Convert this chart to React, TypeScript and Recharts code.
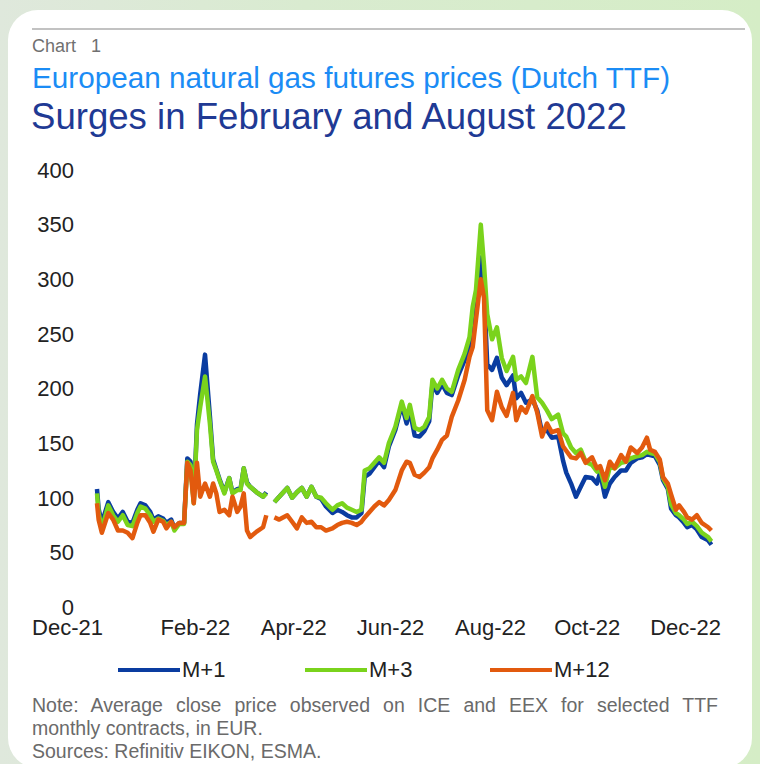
import { LineChart, Line, XAxis, YAxis } from 'recharts';

// trading days counted from the Dec-21 tick
const days = [
  0, 1, 3, 7, 10, 13, 16, 19, 22, 25,
  27, 30, 33, 35, 38, 41, 43, 46, 48, 51,
  54, 56, 58, 60, 62, 64, 67, 70, 72, 74,
  76, 79, 82, 84, 87, 89, 91, 93, 95, 99,
  103, 105, 107, 110, 113, 118, 121, 124, 127, 130,
  133, 136, 139, 142, 146, 149, 152, 155, 158, 161,
  164, 166, 169, 172, 175, 178, 181, 185, 189, 192,
  194, 197, 200, 203, 206, 208, 211, 214, 217, 220,
  224, 228, 231, 233, 235, 238, 240, 242, 245, 248,
  251, 254, 258, 260, 263, 266, 270, 273, 276, 279,
  282, 286, 289, 291, 294, 297, 300, 303, 307, 310,
  312, 315, 318, 321, 325, 328, 331, 335, 338, 341,
  343, 346, 349, 351, 354, 356, 359, 361, 364, 366,
  369, 372, 375, 379, 381,
];

const m1 = [
  108, 90, 77, 96, 87, 81, 87, 78, 77, 89,
  95, 93, 87, 80, 83, 81, 77, 80, 72, 77,
  77, 136, 133, 97, 167, 195, 231, 175, 135, 126,
  117, 105, 118, 105, 108, 108, 127, 114, 110, 105,
  101, 105, null, 96, 101, 109, 100, 105, 109, 101,
  110, 101, 99, 92, 86, 89, 87, 84, 82, 82,
  86, 119, 122, 128, 134, 128, 147, 162, 185, 168,
  180, 157, 156, 161, 170, 204, 196, 204, 196, 194,
  212, 226, 240, 263, 280, 320, 290, 222, 217, 228,
  210, 203, 212, 191, 196, 187, 190, 180, 160, 162,
  155, 156, 134, 123, 113, 101, 110, 119, 118, 113,
  123, 101, 113, 119, 125, 125, 132, 136, 137, 140,
  139, 138, 130, 116, 108, 90, 84, 82, 77, 73,
  75, 71, 64, 61, 57,
];

const m3 = [
  104, 86, 72, 93, 84, 78, 84, 75, 74, 86,
  92, 90, 84, 78, 81, 79, 75, 78, 70, 76,
  76, 133, 130, 95, 162, 183, 211, 168, 133, 125,
  116, 104, 118, 104, 107, 107, 127, 113, 110, 105,
  101, 104, null, 96, 101, 109, 100, 105, 109, 101,
  110, 101, 100, 95, 89, 93, 95, 91, 89, 87,
  89, 125, 127, 132, 137, 132, 150, 165, 188, 173,
  185, 164, 162, 165, 174, 208, 200, 208, 200, 197,
  217, 232, 247, 275, 290, 350, 313, 268, 245, 256,
  228, 216, 229, 208, 211, 205, 229, 192, 187, 180,
  172, 176, 159, 156, 146, 141, 144, 133, 130, 124,
  126, 110, 128, 127, 132, 133, 136, 138, 139, 142,
  141, 140, 133, 118, 110, 94, 86, 84, 80, 76,
  78, 74, 68, 64, 60,
];

const m12 = [
  95, 80, 68, 86, 80, 70, 70, 68, 63, 77,
  84, 84, 77, 69, 80, 78, 72, 78, 73, 77,
  77, 132, 125, 95, 132, 101, 113, 101, 113, 104,
  87, 89, 84, 101, 87, 92, 104, 70, 64, 69,
  73, 84, null, 82, 80, 84, 78, 72, 82, 77,
  78, 73, 73, 70, 72, 75, 77, 78, 77, 75,
  78, 82, 87, 92, 96, 93, 98, 107, 125, 133,
  132, 121, 119, 123, 128, 136, 144, 153, 157, 174,
  189, 208, 229, 238, 263, 300, 283, 180, 171, 197,
  183, 175, 196, 171, 183, 178, 193, 178, 156, 168,
  160, 162, 147, 143, 137, 136, 141, 132, 137, 127,
  129, 116, 133, 127, 139, 133, 146, 141, 146, 155,
  144, 142, 135, 119, 113, 103, 89, 93, 87, 82,
  80, 84, 77, 73, 70,
];

const tickDays = [0, 61, 122, 182, 244, 304, 365];
const tickLabels = ['Dec-21', 'Feb-22', 'Apr-22', 'Jun-22', 'Aug-22', 'Oct-22', 'Dec-22'];
const yTicks = [0, 50, 100, 150, 200, 250, 300, 350, 400];

const seriesNames = ['M+1', 'M+3', 'M+12'];
const COLORS = ['#0a3ca0', '#7ad31c', '#e25a0e'];

const rows = days.map((d, i) => ({ d, m1: m1[i], m3: m3[i], m12: m12[i] }));

const FONT = "'Liberation Sans', Arial, sans-serif";

function XTick(props: any) {
  const { x, y, index } = props;
  const first = index === 0;
  return (
    <text
      x={first ? x + 6 : x}
      y={y}
      dy={24}
      textAnchor={first ? 'end' : 'middle'}
      fill="#222"
      fontSize={22}
      fontFamily={FONT}
    >
      {tickLabels[index]}
    </text>
  );
}

export default function App() {
  return (
    <div
      style={{
        position: 'absolute',
        left: 0,
        top: 0,
        width: 760,
        height: 764,
        overflow: 'hidden',
        background: 'linear-gradient(90deg, #dfe8dc 0%, #d9ebd0 40%, #d5edc6 100%)',
        fontFamily: FONT,
      }}
    >
      <div
        style={{
          position: 'absolute',
          left: 8,
          top: 10,
          width: 744,
          height: 758,
          background: '#fff',
          borderRadius: 30,
        }}
      />
      <div style={{ position: 'absolute', left: 32, top: 28, width: 713, height: 2, background: '#c2c2c2' }} />

      <div style={{ position: 'absolute', left: 32, top: 36, fontSize: 18, color: '#707070', whiteSpace: 'pre' }}>
        {'Chart   1'}
      </div>
      <div style={{ position: 'absolute', left: 32, top: 61, fontSize: 29.7, color: '#1b8cf5', whiteSpace: 'nowrap' }}>
        European natural gas futures prices (Dutch TTF)
      </div>
      <div style={{ position: 'absolute', left: 31, top: 96, fontSize: 36.6, color: '#1f3a94', whiteSpace: 'nowrap' }}>
        Surges in February and August 2022
      </div>

      <div style={{ position: 'absolute', left: 0, top: 0 }}>
        <LineChart width={760} height={700} data={rows} margin={{ top: 170, right: 47, bottom: 63, left: 0 }}>
          <XAxis
            dataKey="d"
            type="number"
            domain={[0, 382]}
            ticks={tickDays}
            interval={0}
            axisLine={false}
            tickLine={false}
            tickSize={0}
            tickMargin={4}
            tick={<XTick />}
          />
          <YAxis
            type="number"
            domain={[0, 400]}
            ticks={yTicks}
            interval={0}
            width={97}
            axisLine={false}
            tickLine={false}
            tickSize={0}
            tickMargin={23}
            tick={{ fill: '#222', fontSize: 22, fontFamily: FONT }}
          />
          <Line dataKey="m1" name={seriesNames[0]} stroke={COLORS[0]} strokeWidth={4.5} dot={false} isAnimationActive={false} strokeLinejoin="round" />
          <Line dataKey="m3" name={seriesNames[1]} stroke={COLORS[1]} strokeWidth={4.5} dot={false} isAnimationActive={false} strokeLinejoin="round" />
          <Line dataKey="m12" name={seriesNames[2]} stroke={COLORS[2]} strokeWidth={4.5} dot={false} isAnimationActive={false} strokeLinejoin="round" />
        </LineChart>
      </div>

      {seriesNames.map((name, i) => (
        <div
          key={name}
          style={{ position: 'absolute', left: [118, 305, 490][i], top: 657, display: 'flex', alignItems: 'center', fontSize: 22, color: '#222' }}
        >
          <span style={{ display: 'inline-block', width: 62, height: 4, background: COLORS[i], marginRight: 2 }} />
          <span>{name}</span>
        </div>
      ))}

      <div style={{ position: 'absolute', left: 32, top: 694, width: 686, fontSize: 19.5, lineHeight: '23px', color: '#6a6a6a' }}>
        <div style={{ textAlign: 'justify', textAlignLast: 'justify' }}>
          Note: Average close price observed on ICE and EEX for selected TTF
        </div>
        <div>monthly contracts, in EUR.</div>
        <div>Sources: Refinitiv EIKON, ESMA.</div>
      </div>
    </div>
  );
}
